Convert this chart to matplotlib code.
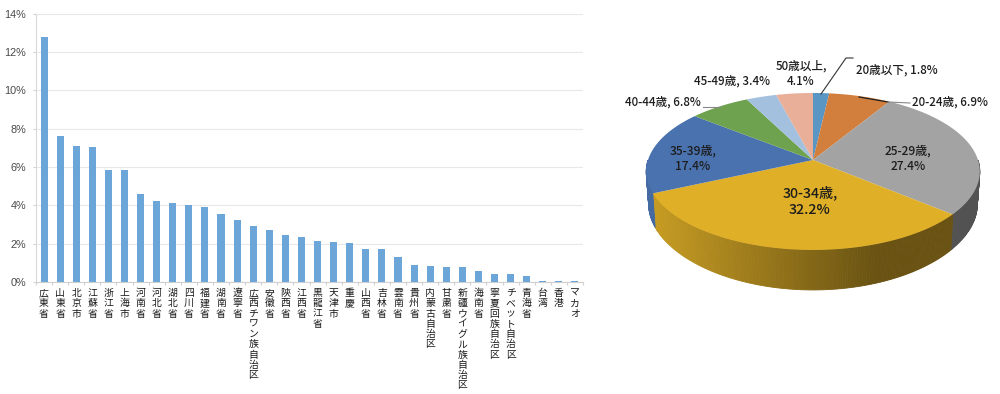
import matplotlib
matplotlib.use('Agg')
import matplotlib.pyplot as plt
import numpy as np

plt.rcParams['font.family'] = ['Noto Sans CJK JP', 'DejaVu Sans']

# 地域別
regions = ['広東省', '山東省', '北京市', '江蘇省', '浙江省', '上海市', '河南省', '河北省', '湖北省',
           '四川省', '福建省', '湖南省', '遼寧省', '広西チワン族自治区', '安徽省', '陝西省', '江西省',
           '黒龍江省', '天津市', '重慶', '山西省', '吉林省', '雲南省', '貴州省', '内蒙古自治区', '甘粛省',
           '新疆ウイグル族自治区', '海南省', '寧夏回族自治区', 'チベット自治区', '青海省', '台湾', '香港', 'マカオ']
shares = [12.75, 7.6, 7.1, 7.05, 5.85, 5.85, 4.6, 4.2, 4.1, 4.0, 3.9, 3.55, 3.25, 2.9, 2.7, 2.45, 2.35,
          2.15, 2.1, 2.05, 1.7, 1.7, 1.3, 0.9, 0.85, 0.8, 0.8, 0.55, 0.4, 0.4, 0.33, 0.05, 0.05, 0.05]
yticks = [0, 2, 4, 6, 8, 10, 12, 14]

# 年齢別
ages = ['20歳以下', '20-24歳', '25-29歳', '30-34歳', '35-39歳', '40-44歳', '45-49歳', '50歳以上']
age_shares = [1.8, 6.9, 27.4, 32.2, 17.4, 6.8, 3.4, 4.1]
age_colors = ['#5A96C3', '#D27E3C', '#A3A3A3', '#DFAF27', '#4A72AE', '#6FA24F', '#A3C0DE', '#E9AF98']

W, H = 1000, 394
fig = plt.figure(figsize=(W / 100, H / 100), dpi=100)

# 棒グラフ
ax = fig.add_axes([36 / W, 1 - 282 / H, 547 / W, 268.5 / H])
x = np.arange(len(regions))
ax.bar(x, shares, width=0.44, color='#6CA6D9', zorder=3)
ax.set_xlim(-0.5, len(regions) - 0.5)
ax.set_ylim(0, 14)
ax.set_yticks(yticks)
ax.set_yticklabels(['%d%%' % t for t in yticks], fontsize=7.8, color='#4A4A4A', family='Liberation Sans')
ax.grid(axis='y', color='#E8E8E8', linewidth=0.8, zorder=0)
ax.tick_params(axis='y', length=2.2, pad=5, color='#D4D4D4')
for s in ['top', 'right']:
    ax.spines[s].set_visible(False)
ax.spines['bottom'].set_color('#D0D0D0')
ax.spines['left'].set_color('#D8D8D8')
ax.set_xticks(np.r_[-0.5, x + 0.5])
ax.set_xticklabels([])
ax.tick_params(axis='x', length=2.2, color='#D0D0D0')
pitch = 10.25 * 0.72  # 1文字の送り(pt)
for xx, name in zip(x, regions):
    for k, ch in enumerate(name):
        ax.annotate(ch, (xx, 0), xytext=(0, -8 - k * pitch), textcoords='offset points',
                    ha='center', va='center', fontsize=7.1, color='#1A1A1A')

# 円グラフ 3D風
pie = fig.add_axes([0, 0, 1, 1])
pie.set_xlim(0, W)
pie.set_ylim(H, 0)
pie.axis('off')
pie.patch.set_alpha(0)

cx, cy = 813, 160
A, B, p = 165, 76.8, 0.146


def rim(theta):
    # 上から時計回りの角度 -> 画面座標(遠近あり)
    w = 1 + p * np.cos(theta)
    return cx + A * np.sin(theta) / w, cy - B * np.cos(theta) / w


def lower(theta):
    # 底面は少し小さく、手前ほど厚い
    xs, ys = rim(theta)
    return cx + (xs - cx) * 0.985, ys + 33 + 7 * np.cos(theta) ** 2


edges = 2 * np.pi * np.concatenate([[0], np.cumsum(age_shares)]) / sum(age_shares)


def shade(color, f):
    rgb = np.array(matplotlib.colors.to_rgb(color))
    return tuple(rgb * f)


# 側面
side_steps = np.linspace(np.pi / 2, 3 * np.pi / 2, 241)
for t0, t1 in zip(side_steps[:-1], side_steps[1:]):
    tm = (t0 + t1) / 2
    i = np.searchsorted(edges, tm) - 1
    if i == 3:
        # 左が明るく右が暗い
        frac = (rim(tm)[0] - (cx - A)) / (2 * A)
        col = shade(age_colors[i], max(0.47, 0.90 - 0.62 * frac))
    elif i == 2:
        col = shade(age_colors[i], 0.50)
    else:
        col = shade(age_colors[i], 0.93)
    xa, ya = rim(t0)
    xb, yb = rim(t1)
    xc, yc = lower(t1)
    xd, yd = lower(t0)
    pie.fill([xa, xb, xc, xd], [ya, yb, yc, yd], facecolor=col, edgecolor=col, lw=0.6, zorder=2)

# 上面
for i in range(len(age_shares)):
    th = np.linspace(edges[i], edges[i + 1], 120)
    xs, ys = rim(th)
    pie.fill(np.r_[cx, xs], np.r_[cy, ys], color=age_colors[i], lw=0, zorder=3)

# ラベル
txt = dict(ha='center', va='center', color='#1C1C1C', zorder=5, fontweight='medium')
pie.text(897, 70, '%s, %s%%' % (ages[0], age_shares[0]), fontsize=8.4, **txt)
pie.text(950, 102, '%s, %s%%' % (ages[1], age_shares[1]), fontsize=8.4, **txt)
pie.text(908, 159, '%s,\n%s%%' % (ages[2], age_shares[2]), fontsize=8.6, linespacing=1.25, **txt)
pie.text(810, 201, '%s,\n%s%%' % (ages[3], age_shares[3]), fontsize=10.2, linespacing=1.3, **txt)
pie.text(693, 159, '%s,\n%s%%' % (ages[4], age_shares[4]), fontsize=8.6, linespacing=1.25, **txt)
pie.text(663, 102, '%s, %s%%' % (ages[5], age_shares[5]), fontsize=8.4, **txt)
pie.text(732, 81, '%s, %s%%' % (ages[6], age_shares[6]), fontsize=8.4, **txt)
pie.text(801, 74, '%s,\n%s%%' % (ages[7], age_shares[7]), fontsize=8.4, linespacing=1.25, **txt)

# 引き出し線
pie.plot([821, 846, 853], [94, 58, 58], color='#333333', lw=0.8, zorder=4)
pie.plot([859, 888], [97, 102], color='#222222', lw=0.9, zorder=4)
pie.plot([888, 910], [102, 103], color='#888888', lw=0.8, zorder=4)
pie.plot([703, 720], [107, 107], color='#888888', lw=0.8, zorder=4)

fig.savefig('out.png', dpi=100)
